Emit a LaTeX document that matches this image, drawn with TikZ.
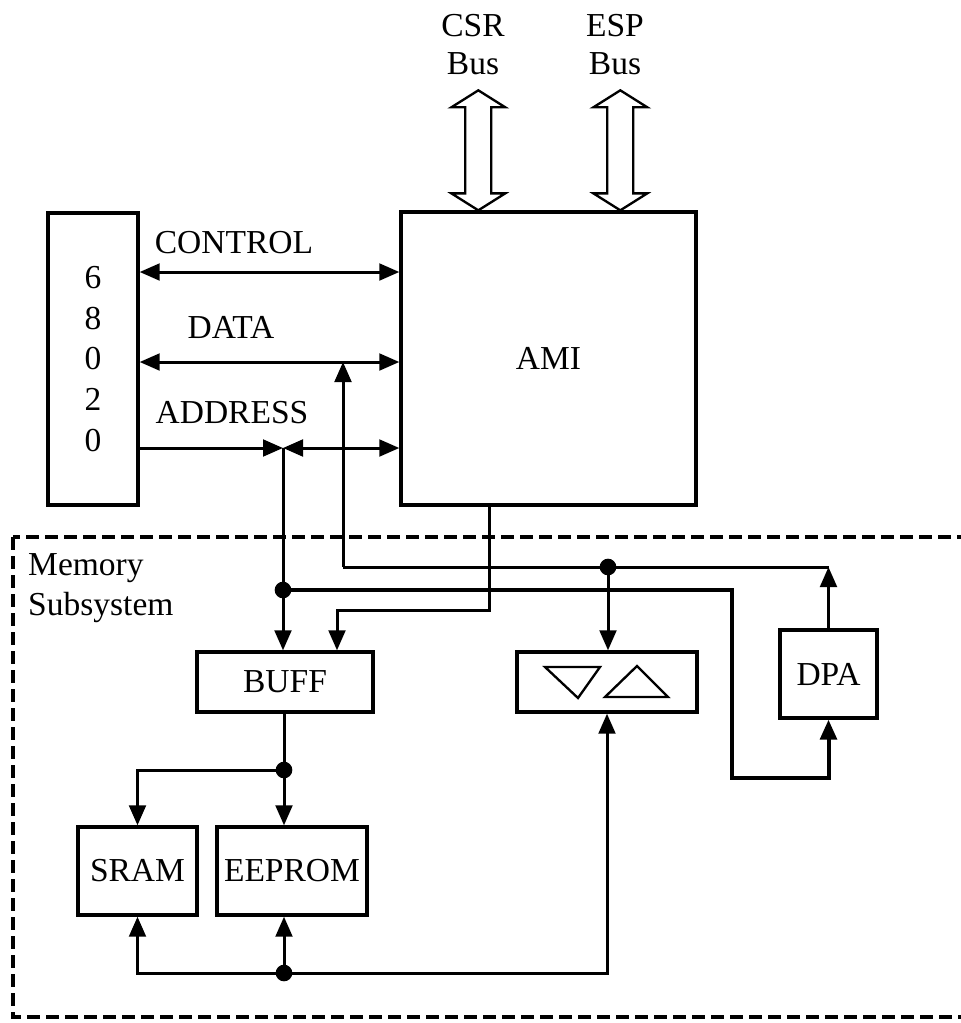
\documentclass[tikz,border=0pt]{standalone}
\usepackage{fontspec}
\setmainfont{Liberation Serif}
\usetikzlibrary{arrows.meta,calc}
\begin{document}
\begin{tikzpicture}[x=0.03cm,y=-0.03cm,
  txt/.style={font=\fontsize{28.6pt}{34pt}\selectfont, inner sep=0pt},
  blk/.style={draw, line width=0.1cm, inner sep=0pt, txt},
  ln/.style={line width=0.09cm},
  arr/.style={ln, -{Triangle[length=0.6cm,width=0.5cm]}},
  darr/.style={ln, {Triangle[length=0.6cm,width=0.5cm]}-{Triangle[length=0.6cm,width=0.5cm]}},
  dot/.style={circle, fill, inner sep=0pt, minimum size=0.5cm},
  busarr/.style={draw, fill=white, line width=0.07cm, line join=miter},
  memframe/.style={line width=0.12cm, dash pattern=on 0.39cm off 0.18cm}]
\useasboundingbox (0,0) rectangle (961,1023);
\clip (0,0) rectangle (961,1023);

% memory subsystem frame
\draw[memframe] (13,537) rectangle (990,1017);
\node[txt, align=left, anchor=north west, font=\fontsize{28.6pt}{34pt}\selectfont] (mem) at (28,553) {Memory\\Subsystem};

% blocks
\node[blk, minimum width=2.7cm, minimum height=8.76cm, align=center,
      font=\fontsize{28.6pt}{34.9pt}\selectfont] (cpu) at (93,359) {6\\8\\0\\2\\0};
\node[blk, minimum width=8.85cm, minimum height=8.79cm] (ami) at (548.5,358.5) {AMI};
\node[blk, minimum width=5.28cm, minimum height=1.8cm] (buff) at (285,682) {BUFF};
\node[blk, minimum width=5.4cm, minimum height=1.8cm] (tri) at (607,682) {};
\node[blk, minimum width=2.91cm, minimum height=2.64cm] (dpa) at (828.5,674) {DPA};
\node[blk, minimum width=3.57cm, minimum height=2.64cm] (sram) at (137.5,871) {SRAM};
\node[blk, minimum width=4.5cm, minimum height=2.64cm] (eeprom) at (292,871) {EEPROM};

% transceiver symbols
\draw[line width=0.07cm] ($(tri.center)+(-62,-15)$) -- ($(tri.center)+(-7,-15)$) -- ($(tri.center)+(-29,16)$) -- cycle;
\draw[line width=0.07cm] ($(tri.center)+(-2,15)$) -- ($(tri.center)+(61,15)$) -- ($(tri.center)+(30,-16)$) -- cycle;

% bus labels
\node[txt, anchor=base] (lctl) at (234,253) {CONTROL};
\node[txt, anchor=base] (ldat) at (231,338) {DATA};
\node[txt, anchor=base] (ladr) at (232,423) {ADDRESS};
\node[txt, align=center, font=\fontsize{28.6pt}{32.4pt}\selectfont] (csr) at (473,45) {CSR\\Bus};
\node[txt, align=center, font=\fontsize{28.6pt}{32.4pt}\selectfont] (esp) at (615,45) {ESP\\Bus};

% hollow bus arrows
\coordinate (csrB) at ($(ami.north west)+(79,0)$);
\coordinate (espB) at ($(ami.north west)+(221,0)$);
\foreach \b in {csrB,espB}{
  \draw[busarr] (\b) -- ++(-27,-17) -- ++(14,0) -- ++(0,-86) -- ++(-14,0) -- ++(27,-17)
     -- ++(27,17) -- ++(-14,0) -- ++(0,86) -- ++(14,0) -- cycle;
}

% junctions
\coordinate (yctl) at (0,272);
\coordinate (ydat) at (0,362);
\coordinate (aj) at (283,448);
\node[dot] (dA) at (283,590) {};
\node[dot] (dD) at (608,567) {};
\node[dot] (dB) at (284,770) {};
\node[dot] (dC) at (284,973) {};
\coordinate (dl) at (343,567);
\coordinate (am1) at (489,610);
\coordinate (am2) at (337,610);
\coordinate (ad1) at (732,590);
\coordinate (ad2) at (732,778);

% processor buses
\draw[darr] (cpu.east |- yctl) -- (ami.west |- yctl);
\draw[darr] (cpu.east |- ydat) -- (ami.west |- ydat);
\draw[arr] (cpu.east |- aj) -- (aj);
\draw[darr] (aj) -- (ami.west |- aj);
\draw[arr] (aj) -- (dA.center) -- (aj |- buff.north);

% data path
\draw[arr] (dl) -- (dl |- ydat);
\draw[ln] (dl) -- (dpa.north |- dl);
\draw[arr] (dpa.north) -- (dpa.north |- dl);
\draw[arr] (dD.center) -- (dD |- tri.north);

% AMI control to buffer
\draw[arr] (ami.south -| am1) -- (am1) -- (am2) -- (am2 |- buff.north);

% address to DPA
\draw[arr, line width=0.12cm] (dA.center) -- (ad1) -- (ad2) -- (dpa.south |- ad2) -- (dpa.south);

% buffer to memories
\draw[ln] (buff.south -| dB) -- (dB.center);
\draw[arr] (dB.center) -- (dB |- eeprom.north);
\draw[arr] (dB.center) -- (dB -| sram.north) -- (sram.north);

% memory data bus
\draw[arr] (dC.center) -- (dC |- eeprom.south);
\draw[arr] (dC.center) -- (dC -| sram.south) -- (sram.south);
\draw[arr] (dC.center) -- (dC -| tri.south) -- (tri.south);
\end{tikzpicture}
\end{document}
